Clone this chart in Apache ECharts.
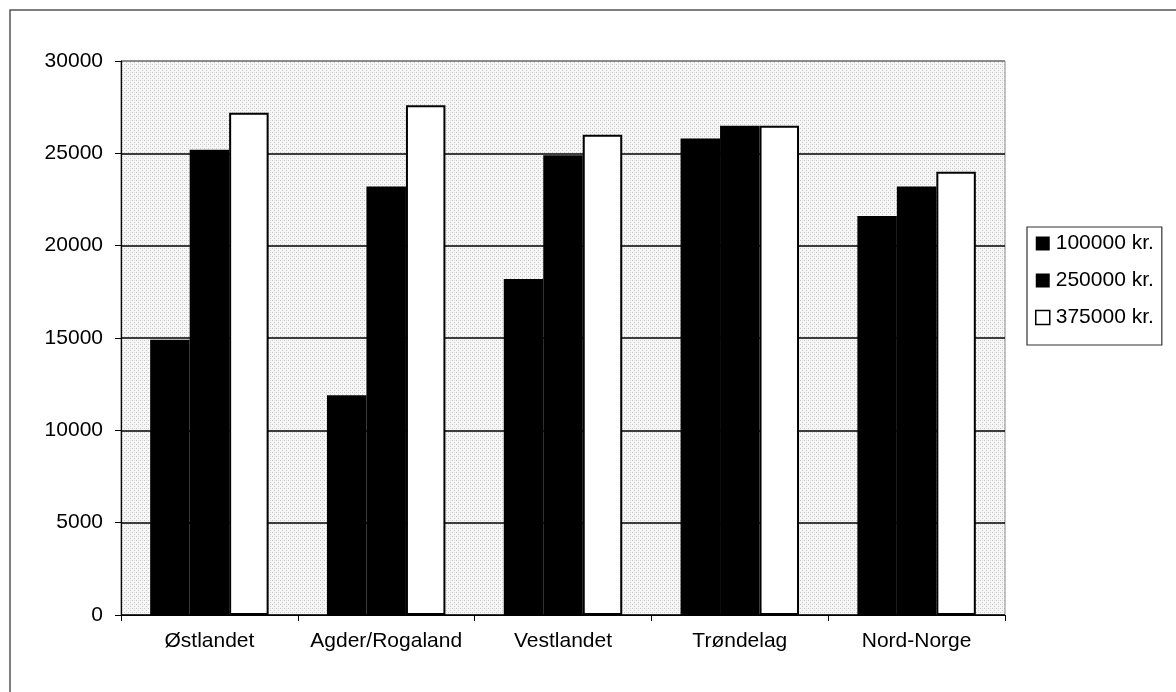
<!DOCTYPE html>
<html>
<head>
<meta charset="utf-8">
<script src="https://cdn.jsdelivr.net/npm/echarts@6/dist/echarts.min.js"></script>
<style>
  html, body { margin: 0; padding: 0; background: #fff; }
  #main { width: 1176px; height: 692px; }
</style>
</head>
<body>
<div id="main"></div>
<script>
const regions = ["Østlandet", "Agder/Rogaland", "Vestlandet", "Trøndelag", "Nord-Norge"];
const seriesNames = ["100000 kr.", "250000 kr.", "375000 kr."];
const income100 = [14900, 11900, 18200, 25800, 21600];
const income250 = [25200, 23200, 24900, 26500, 23200];
const income375 = [27200, 27600, 26000, 26500, 24000];

// light dotted texture like the scanned plot area
function makeTexture() {
  const c = document.createElement("canvas");
  c.width = 4;
  c.height = 4;
  const ctx = c.getContext("2d");
  ctx.fillStyle = "#f7f7f7";
  ctx.fillRect(0, 0, 4, 4);
  ctx.fillStyle = "#c6c6c6";
  ctx.fillRect(0, 0, 1, 1);
  ctx.fillRect(2, 2, 1, 1);
  ctx.fillStyle = "#e0e0e0";
  ctx.fillRect(2, 0, 1, 1);
  return c;
}

const font = "Arial, 'Liberation Sans', sans-serif";
const chart = echarts.init(document.getElementById("main"));

const option = {
  animation: false,
  backgroundColor: "#fff",
  textStyle: { fontFamily: font },
  grid: {
    left: 121,
    right: 171,
    top: 61,
    bottom: 77,
    show: true,
    backgroundColor: { image: makeTexture(), repeat: "repeat" },
    borderColor: "#8a8a8a",
    borderWidth: 1
  },
  legend: {
    orient: "vertical",
    left: 1027,
    top: 227,
    padding: [6, 8, 17, 8],
    itemGap: 16,
    itemWidth: 14,
    itemHeight: 14,
    itemStyle: { borderWidth: 0 },
    backgroundColor: "#fff",
    borderColor: "#333",
    borderWidth: 1.2,
    borderRadius: 0,
    textStyle: { fontSize: 21, color: "#000", fontFamily: font, padding: [0, 0, 0, 1] },
    data: [
      { name: seriesNames[0], icon: "rect" },
      { name: seriesNames[1], icon: "rect" },
      { name: seriesNames[2], icon: "rect", itemStyle: { color: "#fff", borderColor: "#000", borderWidth: 1.5 } }
    ]
  },
  xAxis: {
    type: "category",
    data: regions,
    axisLine: { lineStyle: { color: "#000", width: 1.2 } },
    axisTick: { show: true, length: 6, lineStyle: { color: "#000" } },
    axisLabel: { fontSize: 21, color: "#000", margin: 16, interval: 0, fontFamily: font }
  },
  yAxis: {
    type: "value",
    min: 0,
    max: 30000,
    interval: 5000,
    axisLine: { show: true, lineStyle: { color: "#000", width: 1.2 } },
    axisTick: { show: true, length: 6, lineStyle: { color: "#000" } },
    axisLabel: { fontSize: 21, color: "#000", margin: 18, fontFamily: font, formatter: (v) => String(v) },
    splitLine: {
      show: true,
      lineStyle: { color: ["#000", "#000", "#000", "#000", "#000", "#000", "#777"], width: 1.5 }
    }
  },
  series: [
    {
      name: seriesNames[0],
      type: "bar",
      data: income100,
      barGap: "0%",
      barCategoryGap: "33%",
      itemStyle: { color: "#000" }
    },
    {
      name: seriesNames[1],
      type: "bar",
      data: income250,
      barGap: "0%",
      barCategoryGap: "33%",
      itemStyle: { color: "#000" }
    },
    {
      name: seriesNames[2],
      type: "bar",
      data: income375,
      barGap: "0%",
      barCategoryGap: "33%",
      itemStyle: { color: "#fff", borderColor: "#000", borderWidth: 2 }
    }
  ],
  graphic: [
    {
      type: "polyline",
      silent: true,
      shape: { points: [[10, 692], [10, 10], [1176, 10]] },
      style: { stroke: "#555", lineWidth: 1.5, fill: null }
    }
  ]
};

chart.setOption(option);
</script>
</body>
</html>
